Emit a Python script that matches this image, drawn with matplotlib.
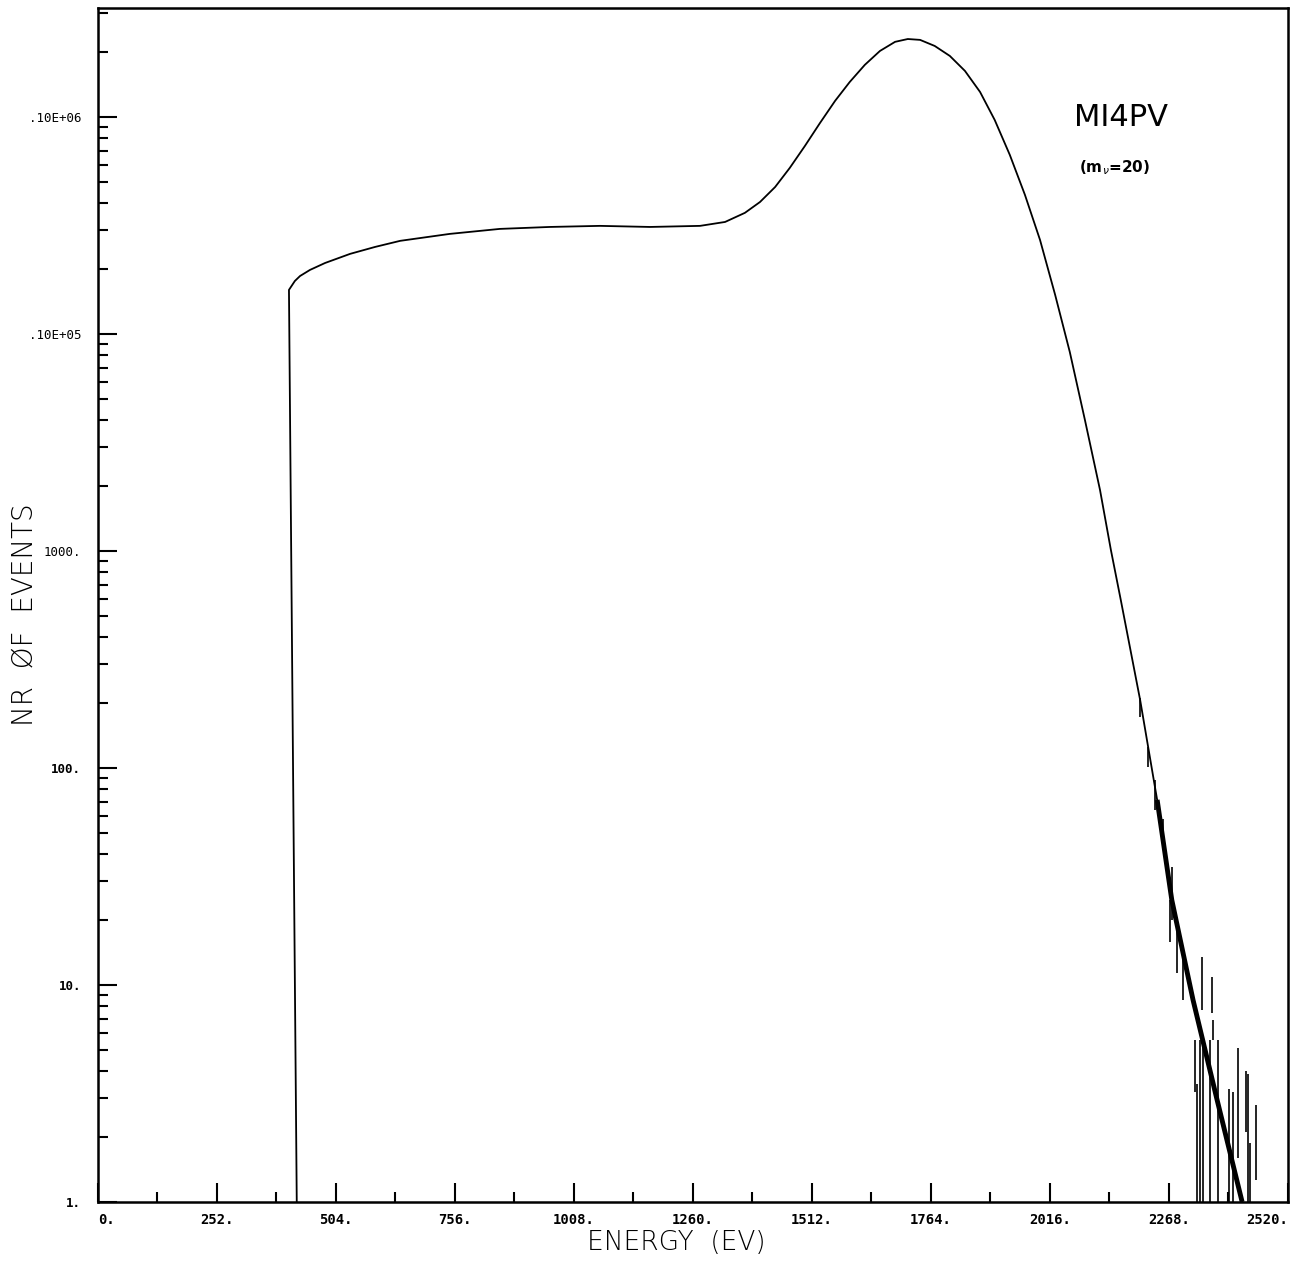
import matplotlib.pyplot as plt
from matplotlib.ticker import FixedLocator, LogLocator, NullFormatter
import numpy as np

# smooth spectrum (energy in eV, log10 of number of events)
energy = [421, 404.5, 417, 428, 449, 481, 534, 587, 640, 745, 851, 957, 1063,
          1169, 1275, 1328, 1370, 1402, 1434, 1465, 1497, 1529, 1561, 1592,
          1624, 1656, 1688, 1715, 1741, 1772, 1804, 1836, 1868, 1899, 1931,
          1963, 1995, 2027, 2058, 2090, 2122, 2145, 2166, 2207, 2243, 2274,
          2319, 2370, 2423]
log_events = [0.0, 4.203, 4.244, 4.267, 4.295, 4.327, 4.369, 4.401, 4.429, 4.461,
              4.484, 4.493, 4.498, 4.493, 4.498, 4.516, 4.558, 4.608, 4.677,
              4.765, 4.866, 4.972, 5.074, 5.161, 5.240, 5.304, 5.346, 5.359,
              5.355, 5.327, 5.281, 5.212, 5.115, 4.986, 4.825, 4.641, 4.433,
              4.180, 3.917, 3.604, 3.281, 3.005, 2.774, 2.313, 1.853, 1.392,
              0.931, 0.470, 0.0]

# fluctuating Monte Carlo bins in the tail (energy, low, high)
bin_e = [2207, 2224, 2238, 2255, 2274, 2270, 2285, 2298, 2323, 2327, 2334, 2338,
         2340, 2355, 2359, 2361, 2372, 2395, 2403, 2414, 2431, 2435, 2440, 2452]
bin_lo = [172, 101, 64, 42, 20, 15.8, 11.4, 8.5, 3.2, 1.0, 1.0, 7.7,
          1.0, 1.0, 7.4, 5.6, 1.0, 1.0, 1.0, 1.6, 2.1, 1.0, 1.0, 1.26]
bin_hi = [210, 125, 88, 58, 35, 24.6, 20.6, 14.0, 5.6, 3.5, 5.6, 13.5,
          5.6, 5.6, 10.9, 6.9, 5.6, 3.3, 3.2, 5.1, 4.0, 3.9, 1.87, 2.8]

x_ticks = [0, 252, 504, 756, 1008, 1260, 1512, 1764, 2016, 2268, 2520]
x_labels = ['0.', '252.', '504.', '756.', '1008.', '1260.', '1512.', '1764.',
            '2016.', '2268.', '2520.']
y_ticks = [1, 10, 100, 1000, 1e4, 1e5]
y_labels = ['1.', '10.', '100.', '1000.', '.10E+05', '.10E+06']

events = 10 ** np.array(log_events)
energy = np.array(energy)

fig = plt.figure(figsize=(12.99, 12.67), dpi=100)
ax = fig.add_axes([0.0754, 0.0513, 0.9161, 0.9424])

ax.plot(energy, events, color='black', lw=1.3)
tail = energy >= 2230
ax.plot(energy[tail], events[tail], color='black', lw=3.5, solid_capstyle='butt')
ax.vlines(bin_e, bin_lo, bin_hi, color='black', lw=1.2)

ax.set_yscale('log')
ax.set_xlim(0, 2520)
ax.set_ylim(1, 10 ** 5.502)

ax.xaxis.set_major_locator(FixedLocator(x_ticks))
ax.xaxis.set_minor_locator(FixedLocator(np.arange(126, 2520, 252)))
ax.set_xticklabels(x_labels, family='DejaVu Sans Mono', fontweight='bold', fontsize=10)
xl = ax.get_xticklabels()
xl[0].set_ha('left')
xl[-1].set_ha('right')
ax.yaxis.set_major_locator(FixedLocator(y_ticks))
ax.yaxis.set_minor_locator(LogLocator(base=10, subs=np.arange(2, 10)))
ax.yaxis.set_minor_formatter(NullFormatter())
ax.set_yticklabels(y_labels, family='DejaVu Sans Mono', fontsize=9)
for lab in ax.get_yticklabels()[:3]:
    lab.set_fontweight('bold')

ax.tick_params(which='major', direction='in', length=14, width=1.5, pad=8)
ax.tick_params(which='minor', direction='in', length=7, width=1.5)
ax.tick_params(axis='y', which='major', pad=12)
for s in ax.spines.values():
    s.set_linewidth(1.8)

fig.text(676 / 1299, 1 - 1242 / 1267, 'ENERGY  (EV)', ha='center', va='center',
         fontsize=19, fontweight='light', family='DejaVu Sans')
fig.text(25 / 1299, 1 - 615 / 1267, 'NR  ØF  EVENTS', ha='center', va='center',
         rotation=90, fontsize=20, fontweight='light', family='DejaVu Sans')
fig.text(1121 / 1299, 1 - 118 / 1267, 'MI4PV', ha='center', va='center',
         fontsize=22, family='DejaVu Sans')
fig.text(1115 / 1299, 1 - 168 / 1267, r'(m$_{\nu}$=20)', ha='center', va='center',
         fontsize=11, fontweight='bold', family='DejaVu Sans')

fig.savefig('out.png', dpi=100)
